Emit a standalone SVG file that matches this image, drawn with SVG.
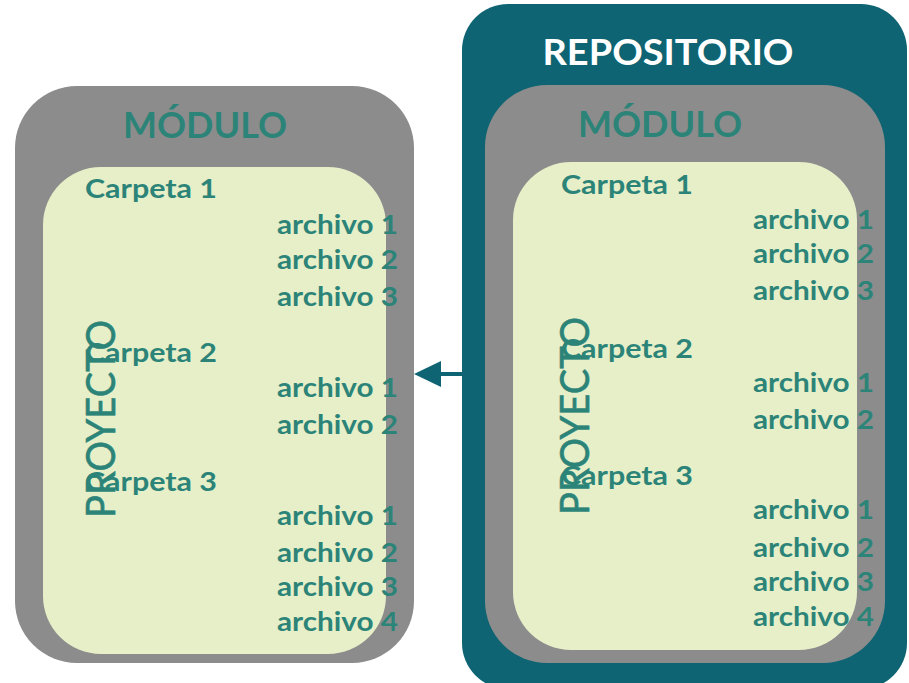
<svg xmlns="http://www.w3.org/2000/svg" width="909" height="683" viewBox="0 0 909 683">
<defs>
<style>
.repo{fill:#0E6472}
.mod{fill:#8C8C8C}
.proj{fill:#E6EFC8}
text{font-family:"Lato","Open Sans","Liberation Sans",sans-serif;fill:#2C8479}
.title{font-size:36px;font-weight:700}
.white{fill:#FFFFFF}
.carp{font-size:26px;font-weight:700}
.arch{font-size:26px;font-weight:700}
.pv{font-size:40px;font-weight:400;stroke:#2C8479;stroke-width:0.6}
</style>
</defs>
<rect width="909" height="683" fill="#FFFFFF"/>

<g id="repositorio">
<rect class="repo" x="462" y="4" width="445" height="685" rx="46"/>
<text class="title white" x="668" y="65" text-anchor="middle" textLength="251" lengthAdjust="spacingAndGlyphs">REPOSITORIO</text>
</g>

<g id="modulo-izq">
<rect class="mod" x="15" y="86" width="399" height="577" rx="62"/>
<text class="title" x="205" y="138" text-anchor="middle" textLength="164" lengthAdjust="spacingAndGlyphs">MÓDULO</text>
</g>
<g id="proyecto-izq">
<rect class="proj" x="43" y="167" width="343" height="487" rx="58"/>
<text class="carp" x="85" y="198" textLength="132" lengthAdjust="spacingAndGlyphs">Carpeta 1</text>
<text class="arch" x="277" y="234" textLength="121" lengthAdjust="spacingAndGlyphs">archivo 1</text>
<text class="arch" x="277" y="269" textLength="121" lengthAdjust="spacingAndGlyphs">archivo 2</text>
<text class="arch" x="277" y="306" textLength="121" lengthAdjust="spacingAndGlyphs">archivo 3</text>
<text class="carp" x="85" y="362" textLength="132" lengthAdjust="spacingAndGlyphs">Carpeta 2</text>
<text class="arch" x="277" y="397" textLength="121" lengthAdjust="spacingAndGlyphs">archivo 1</text>
<text class="arch" x="277" y="434" textLength="121" lengthAdjust="spacingAndGlyphs">archivo 2</text>
<text class="carp" x="85" y="491" textLength="132" lengthAdjust="spacingAndGlyphs">Carpeta 3</text>
<text class="arch" x="277" y="525" textLength="121" lengthAdjust="spacingAndGlyphs">archivo 1</text>
<text class="arch" x="277" y="562" textLength="121" lengthAdjust="spacingAndGlyphs">archivo 2</text>
<text class="arch" x="277" y="596" textLength="121" lengthAdjust="spacingAndGlyphs">archivo 3</text>
<text class="arch" x="277" y="631" textLength="121" lengthAdjust="spacingAndGlyphs">archivo 4</text>
<text class="pv" transform="translate(115,518) rotate(-90)" textLength="198" lengthAdjust="spacingAndGlyphs">PROYECTO</text>
</g>

<g id="modulo-der">
<rect class="mod" x="485" y="85" width="400" height="578" rx="62"/>
<text class="title" x="660" y="137" text-anchor="middle" textLength="164" lengthAdjust="spacingAndGlyphs">MÓDULO</text>
</g>
<g id="proyecto-der">
<rect class="proj" x="513" y="162" width="344" height="488" rx="58"/>
<text class="carp" x="561" y="194" textLength="132" lengthAdjust="spacingAndGlyphs">Carpeta 1</text>
<text class="arch" x="753" y="229" textLength="121" lengthAdjust="spacingAndGlyphs">archivo 1</text>
<text class="arch" x="753" y="263" textLength="121" lengthAdjust="spacingAndGlyphs">archivo 2</text>
<text class="arch" x="753" y="300" textLength="121" lengthAdjust="spacingAndGlyphs">archivo 3</text>
<text class="carp" x="561" y="358" textLength="132" lengthAdjust="spacingAndGlyphs">Carpeta 2</text>
<text class="arch" x="753" y="392" textLength="121" lengthAdjust="spacingAndGlyphs">archivo 1</text>
<text class="arch" x="753" y="429" textLength="121" lengthAdjust="spacingAndGlyphs">archivo 2</text>
<text class="carp" x="561" y="485" textLength="132" lengthAdjust="spacingAndGlyphs">Carpeta 3</text>
<text class="arch" x="753" y="519" textLength="121" lengthAdjust="spacingAndGlyphs">archivo 1</text>
<text class="arch" x="753" y="557" textLength="121" lengthAdjust="spacingAndGlyphs">archivo 2</text>
<text class="arch" x="753" y="591" textLength="121" lengthAdjust="spacingAndGlyphs">archivo 3</text>
<text class="arch" x="753" y="626" textLength="121" lengthAdjust="spacingAndGlyphs">archivo 4</text>
<text class="pv" transform="translate(589,515) rotate(-90)" textLength="198" lengthAdjust="spacingAndGlyphs">PROYECTO</text>
</g>

<g id="connectors">
<line x1="463" y1="374" x2="441" y2="374" stroke="#0E6472" stroke-width="4"/>
<path d="M414,374 L441,361 L441,387 z" fill="#0E6472"/>
</g>
</svg>
